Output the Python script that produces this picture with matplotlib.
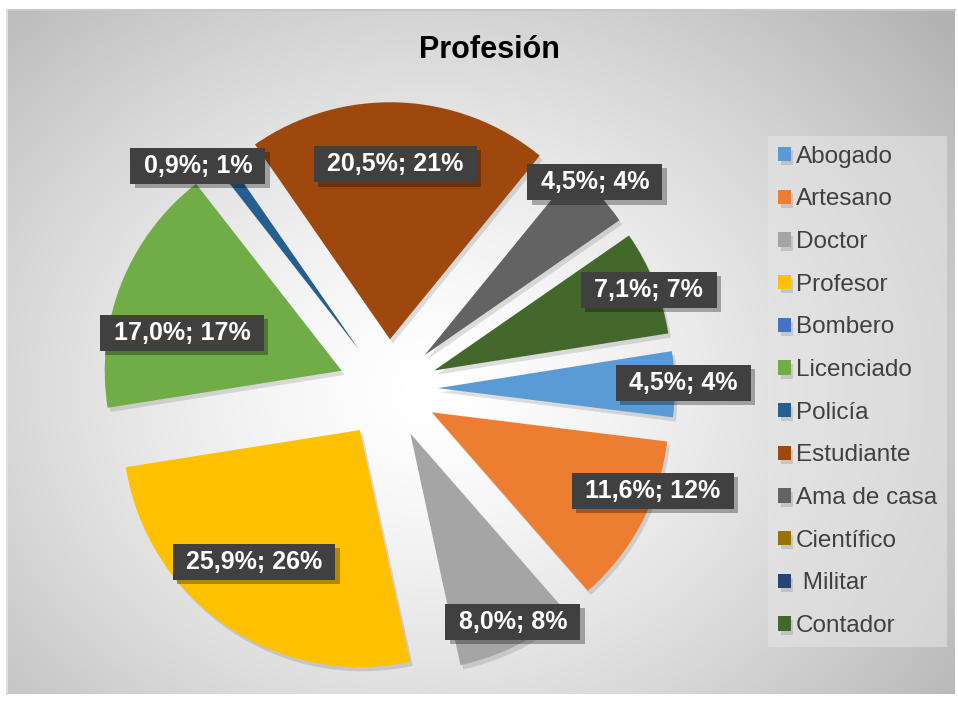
import numpy as np
import matplotlib
matplotlib.use('Agg')
import matplotlib.pyplot as plt
import matplotlib.patheffects as pe

plt.rcParams['font.family'] = ['Liberation Sans', 'DejaVu Sans']

# ---- data ----
categorias = ['Abogado', 'Artesano', 'Doctor', 'Profesor', 'Bombero', 'Licenciado',
              'Policía', 'Estudiante', 'Ama de casa', 'Científico', ' Militar', 'Contador']
cantidad = [5, 13, 9, 29, 0, 19, 1, 23, 5, 0, 0, 8]
colores = ['#5B9BD5', '#ED7D31', '#A5A5A5', '#FFC000', '#4472C4', '#70AD47',
           '#255E91', '#9E480E', '#636363', '#997300', '#264478', '#43682B']

# label box positions (in pie radius units, relative to the pie centre)
label_pos = [(1.245, 0.025), (1.118, -0.430), (0.527, -0.983), (-0.565, -0.730),
             None, (-0.869, 0.236), (-0.802, 0.941), (0.030, 0.949),
             (0.873, 0.873), None, None, (1.101, 0.418)]

W, H = 958, 702
fig = plt.figure(figsize=(W / 100, H / 100), dpi=100)
fig.patch.set_facecolor('white')

# background: radial grey gradient of the chart area
bg = fig.add_axes([0, 0, 1, 1])
bg.set_xlim(0, W)
bg.set_ylim(H, 0)
bg.set_axis_off()
x0, x1, y0, y1 = 7, 955, 10, 694
gx, gy = np.meshgrid(np.linspace(x0, x1, 400), np.linspace(y0, y1, 300))
r = np.sqrt(((gx - 430) / 560) ** 2 + ((gy - 390) / 470) ** 2)
val = 1.0 - 0.23 * np.clip(r, 0, 1.2) ** 1.4
bg.imshow(val, extent=(x0, x1, y1, y0), cmap='gray', vmin=0, vmax=1,
          interpolation='bicubic', aspect='auto', zorder=0)
bg.plot([x0, x1], [y0, y0], color='#c8c8c8', lw=1.5, zorder=1)
bg.plot([x0, x0], [y0, y1], color='#e0e0e0', lw=1.5, zorder=1)

# pie axes: centre at (388, 389) px, radius 237 px
R = 237
lim = 1.4
side = 2 * lim * R
cx, cy = 388, 389
ax = fig.add_axes([(cx - side / 2) / W, (H - cy - side / 2) / H, side / W, side / H])
ax.patch.set_alpha(0)

total = sum(cantidad)
wedges, _ = ax.pie(cantidad, colors=colores, startangle=9, counterclock=False,
                   explode=[0.21] * len(cantidad), radius=1,
                   wedgeprops=dict(linewidth=0))
for w in wedges:
    w.set_path_effects([pe.SimplePatchShadow(offset=(2, -3), shadow_rgbFace='k', alpha=0.12),
                        pe.Normal()])
ax.set_xlim(-lim, lim)
ax.set_ylim(-lim, lim)
ax.set_axis_off()

for n, pos in zip(cantidad, label_pos):
    if n == 0 or pos is None:
        continue
    p = 100.0 * n / total
    txt = ' {}%; {}% '.format(('%.1f' % p).replace('.', ','), int(round(p)))
    t = ax.text(pos[0], pos[1], txt, ha='center', va='center', fontsize=18,
                fontweight='bold', color='white',
                bbox=dict(boxstyle='square,pad=0.25', facecolor='#404040', edgecolor='none'))
    t.get_bbox_patch().set_path_effects([pe.SimplePatchShadow(offset=(3, -3), shadow_rgbFace='k', alpha=0.3),
                                         pe.Normal()])

fig.text(489 / W, 1 - 50 / H, 'Profesión', ha='center', va='center',
         fontsize=22, fontweight='bold', color='black')

leg = fig.legend(wedges, categorias, loc='upper left',
                 bbox_to_anchor=(768 / W, 1 - 136 / H), borderaxespad=0,
                 fontsize=17.5, frameon=True, fancybox=False,
                 handlelength=0.53, handleheight=0.53, handletextpad=0.22,
                 labelspacing=0.85, borderpad=0.4)
leg.get_frame().set_facecolor('#e6e6e6')
leg.get_frame().set_alpha(0.55)
leg.get_frame().set_edgecolor('none')
for t in leg.get_texts():
    t.set_color('#404040')

fig.savefig('out.png', dpi=100)
